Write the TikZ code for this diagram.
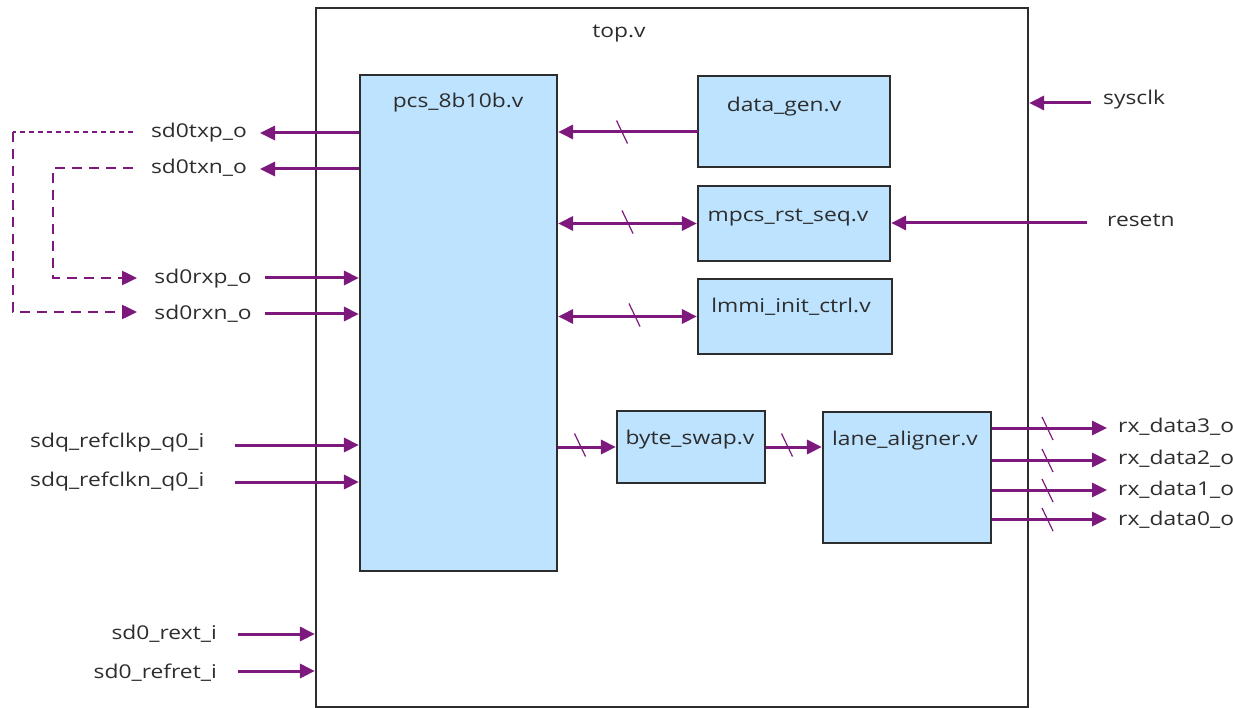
\documentclass[tikz,border=0pt]{standalone}
\usepackage{fontspec}
\setmainfont{Open Sans}[FakeStretch=1.2]
\usetikzlibrary{arrows.meta}
\definecolor{sigc}{RGB}{125,25,125}
\definecolor{blkfill}{RGB}{189,227,255}
\definecolor{ink}{RGB}{45,45,45}
\tikzset{
  blk/.style={draw=ink, line width=2.2pt, fill=blkfill, inner sep=0pt},
  topbox/.style={draw=ink, line width=2.2pt, inner sep=0pt},
  sigl/.style={draw=sigc, line width=3pt, -{Triangle[length=15pt,width=14pt]}},
  bisig/.style={draw=sigc, line width=3pt, {Triangle[length=15pt,width=14pt]}-{Triangle[length=15pt,width=14pt]}},
  loopthin/.style={draw=sigc, line width=1.3pt, dash pattern=on 5pt off 4pt},
  loopthick/.style={draw=sigc, line width=2.5pt, dash pattern=on 10pt off 7pt, -{Triangle[length=15pt,width=14pt]}},
  txt/.style={text=ink, font=\fontsize{19}{22}\selectfont, inner sep=0pt, text height=14pt, text depth=4.5pt},
  bus/.pic={\draw[draw=sigc, line width=1.2pt] (-5.5,-11.5) -- (5.5,11.5);}
}
\begin{document}
\begin{tikzpicture}[x=1pt,y=-1pt]
\useasboundingbox (0,0) rectangle (1233,708);
% blocks
\node[topbox, minimum width=712pt, minimum height=699pt] (top) at (672,357.5) {};
\node[blk, minimum width=197pt, minimum height=496pt] (pcs) at (458.5,323) {};
\node[blk, minimum width=192pt, minimum height=91pt] (dg) at (794,121.5) {};
\node[blk, minimum width=192pt, minimum height=75pt] (rst) at (794,223.5) {};
\node[blk, minimum width=194pt, minimum height=75pt] (lmmi) at (795,316.5) {};
\node[blk, minimum width=148pt, minimum height=72pt] (bs) at (691,447) {};
\node[blk, minimum width=168pt, minimum height=131pt] (lane) at (907,477.5) {};
% block labels
\node[txt] (toplbl) at (619,33) {top.v};
\node[txt] (pcslbl) at (458,103) {pcs\_8b10b.v};
\node[txt] (dglbl) at (784,107) {data\_gen.v};
\node[txt] (rstlbl) at (788,217) {mpcs\_rst\_seq.v};
\node[txt] (lmmilbl) at (791,308) {lmmi\_init\_ctrl.v};
\node[txt] (bslbl) at (690,440) {byte\_swap.v};
\node[txt] (lanelbl) at (905,441) {lane\_aligner.v};
% port labels
\node[txt] (txp) at (199,133) {sd0txp\_o};
\node[txt] (txn) at (199,169) {sd0txn\_o};
\node[txt] (rxp) at (203,279) {sd0rxp\_o};
\node[txt] (rxn) at (203,315) {sd0rxn\_o};
\node[txt, anchor=west] (rckp) at (30,443) {sdq\_refclkp\_q0\_i};
\node[txt, anchor=west] (rckn) at (30,482) {sdq\_refclkn\_q0\_i};
\node[txt, anchor=east] (rext) at (217,635) {sd0\_rext\_i};
\node[txt, anchor=east] (rret) at (217,674) {sd0\_refret\_i};
\node[txt, anchor=west] (sysclk) at (1103,100) {sysclk};
\node[txt, anchor=west] (resetn) at (1107,222) {resetn};
\node[txt, anchor=west] (rx3) at (1118,428) {rx\_data3\_o};
\node[txt, anchor=west] (rx2) at (1118,460) {rx\_data2\_o};
\node[txt, anchor=west] (rx1) at (1118,491) {rx\_data1\_o};
\node[txt, anchor=west] (rx0) at (1118,521) {rx\_data0\_o};
% free ends
\coordinate (dgS) at (698,132);
\coordinate (rsS) at (1087,223);
\coordinate (scS) at (1091,103);
\coordinate (txpT) at (260,133);
\coordinate (txnT) at (260,169);
\coordinate (rxpS) at (265,278);
\coordinate (rxnS) at (265,314);
\coordinate (rckpS) at (235,445);
\coordinate (rcknS) at (235,482);
\coordinate (rextS) at (238,634);
\coordinate (rretS) at (238,671);
\coordinate (rx3T) at (1107,428);
\coordinate (rx2T) at (1107,460);
\coordinate (rx1T) at (1107,490);
\coordinate (rx0T) at (1107,519);
% loopback
\coordinate (lpA) at (133,132);
\coordinate (lpB) at (13,132);
\coordinate (lpC) at (13,312);
\coordinate (lpD) at (137,312);
\coordinate (lnA) at (133,168);
\coordinate (lnB) at (53,168);
\coordinate (lnC) at (53,278);
\coordinate (lnD) at (137,278);
% connectors
\draw[sigl] (dgS) -- (dgS -| pcs.east);
\pic at (622,132) {bus};
\draw[bisig] (pcs.east |- rst.west) -- (rst.west);
\pic at (627.5,222) {bus};
\draw[bisig] (pcs.east |- lmmi.west) -- (lmmi.west);
\pic at (634.5,315) {bus};
\draw[sigl] (rsS) -- (rsS -| rst.east);
\draw[sigl] (scS) -- (scS -| top.east);
\draw[sigl] (txpT -| pcs.west) -- (txpT);
\draw[sigl] (txnT -| pcs.west) -- (txnT);
\draw[sigl] (rxpS) -- (rxpS -| pcs.west);
\draw[sigl] (rxnS) -- (rxnS -| pcs.west);
\draw[loopthin] (lpA) -- (lpB);
\draw[loopthick] (lpB) -- (lpC) -- (lpD);
\draw[loopthick] (lnA) -- (lnB) -- (lnC) -- (lnD);
\draw[sigl] (rckpS) -- (rckpS -| pcs.west);
\draw[sigl] (rcknS) -- (rcknS -| pcs.west);
\draw[sigl] (rextS) -- (rextS -| top.west);
\draw[sigl] (rretS) -- (rretS -| top.west);
\draw[sigl] (pcs.east |- bs.west) -- (bs.west);
\pic at (580,445) {bus};
\draw[sigl] (bs.east) -- (bs.east -| lane.west);
\pic at (787,445) {bus};
\draw[sigl] (rx3T -| lane.east) -- (rx3T);
\pic at (1047.5,428.5) {bus};
\draw[sigl] (rx2T -| lane.east) -- (rx2T);
\pic at (1047.5,460.5) {bus};
\draw[sigl] (rx1T -| lane.east) -- (rx1T);
\pic at (1047.5,490.5) {bus};
\draw[sigl] (rx0T -| lane.east) -- (rx0T);
\pic at (1047.5,519.5) {bus};
\end{tikzpicture}
\end{document}
